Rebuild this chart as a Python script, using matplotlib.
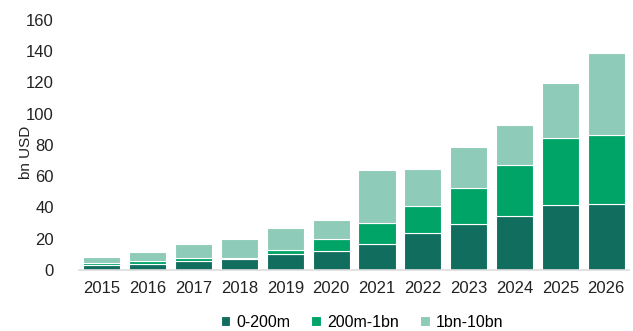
import matplotlib
matplotlib.use("Agg")
import matplotlib.pyplot as plt
import numpy as np

years = [str(y) for y in range(2015, 2027)]
small = [3.0, 4.0, 5.8, 6.8, 10.0, 12.0, 16.5, 23.7, 29.6, 34.6, 41.4, 42.4]
mid = [1.2, 1.5, 1.7, 1.0, 3.0, 8.0, 13.5, 17.5, 23.0, 32.8, 42.9, 44.0]
large = [4.3, 6.2, 9.0, 12.0, 14.0, 12.0, 34.0, 23.5, 26.3, 25.4, 35.2, 52.3]
series_names = ["0-200m", "200m-1bn", "1bn-10bn"]
colors = ["#116E5F", "#00A467", "#8ECBB9"]

plt.rcParams["font.family"] = ["Liberation Sans", "DejaVu Sans"]
plt.rcParams["font.size"] = 12

fig = plt.figure(figsize=(6.33, 3.31), dpi=100)
ax = fig.add_axes([0.1248, 0.1843, 0.869, 0.7553])

x = np.arange(len(years))
bottom = np.zeros(len(years))
for vals, name, col in zip([small, mid, large], series_names, colors):
    ax.bar(x, vals, width=0.81, bottom=bottom, color=col, label=name,
           edgecolor="white", linewidth=0.8)
    bottom += np.array(vals)

ax.set_xlim(-0.5, len(years) - 0.5)
ax.set_ylim(0, 160)
ax.set_yticks(range(0, 161, 20))
ax.set_xticks(x)
ax.set_xticklabels(years)
ax.tick_params(axis="both", length=0, colors="#222222")
ax.tick_params(axis="y", pad=18)
ax.tick_params(axis="x", pad=8)
for side in ["top", "right", "left"]:
    ax.spines[side].set_visible(False)
ax.spines["bottom"].set_color("#DDDDDD")
ax.spines["bottom"].set_linewidth(1.2)
ax.set_ylabel("bn USD", color="#222222", fontsize=11)
ax.yaxis.set_label_coords(-0.084, 0.47)

handles, labels = ax.get_legend_handles_labels()
fig.legend(handles, labels, loc="center", bbox_to_anchor=(0.572, 0.027),
           ncol=3, frameon=False, fontsize=11.5, handlelength=0.6,
           handleheight=0.6, handletextpad=0.4, columnspacing=1.3,
           borderpad=0)

fig.savefig("out.png", dpi=100)
